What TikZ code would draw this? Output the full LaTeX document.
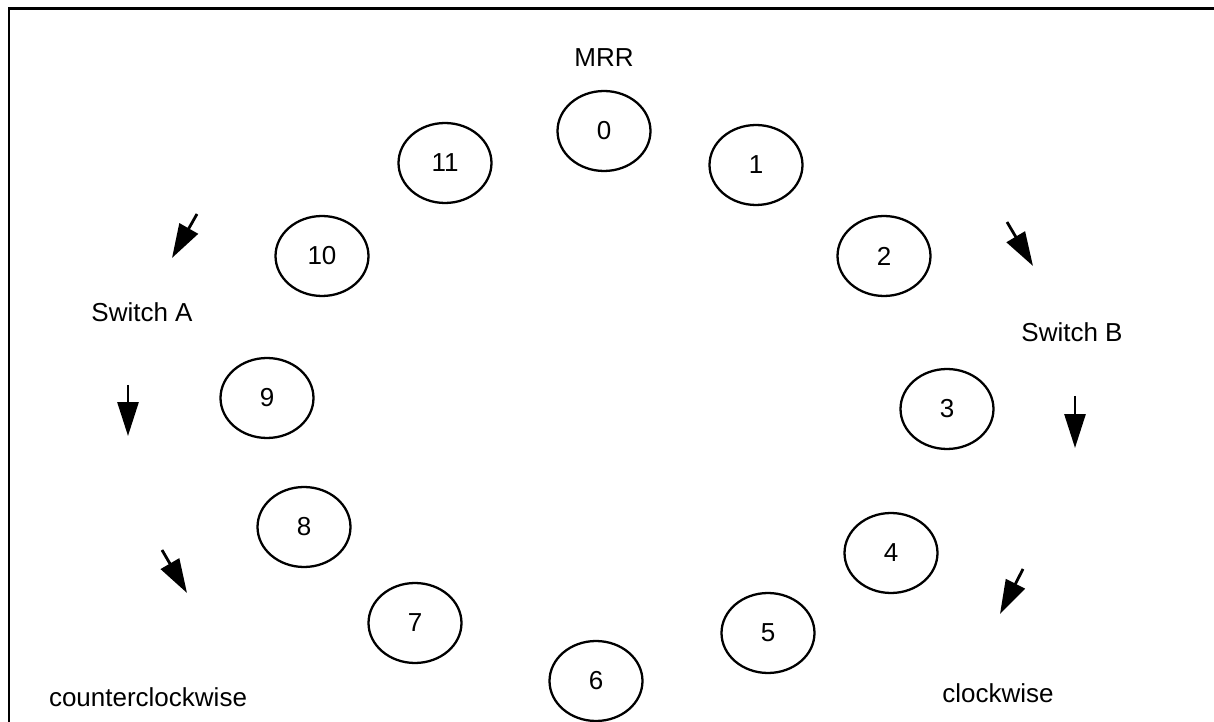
\documentclass[tikz,border=0pt]{standalone}
\usepackage{fontspec}
\setmainfont{Liberation Sans}
\usetikzlibrary{arrows.meta,positioning,shapes.geometric}
\tikzset{
  ring/.style={draw=black,ellipse,line width=1.3pt,minimum width=1.86cm,minimum height=1.6cm,inner sep=0pt,font=\fontsize{14.8}{17}\selectfont},
  lbl/.style={font=\fontsize{14.8}{17}\selectfont,inner sep=0pt},
  flow/.style={-{Triangle[length=0.68cm,width=0.42cm]},line width=1.6pt},
  frameline/.style={line width=1.7pt},
}
\begin{document}
\begin{tikzpicture}[x=0.02cm,y=-0.02cm]
		\useasboundingbox (0,0) rectangle (1214,722);
		\draw[frameline] (9,730)--(9,9)--(1220,9);
		% ring of stations
		\node[ring] (r0) at (604,131) {0};
		\node[ring] (r1) at (756,165) {1};
		\node[ring] (r2) at (884,256) {2};
		\node[ring] (r3) at (947,409) {3};
		\node[ring] (r4) at (891,553) {4};
		\node[ring] (r5) at (768,633) {5};
		\node[ring] (r6) at (596,681) {6};
		\node[ring] (r7) at (415,623) {7};
		\node[ring] (r8) at (304,527) {8};
		\node[ring] (r9) at (267,398) {9};
		\node[ring] (r10) at (322,256) {10};
		\node[ring] (r11) at (445,163) {11};
		% labels
		\node[lbl] (mrr) at (604,58) {MRR};
		\node[lbl] (swa) at (142,312) {Switch A};
		\node[lbl] (swb) at (1072,332) {Switch B};
		\node[lbl] (ccw) at (148,697) {counterclockwise};
		\node[lbl] (cw) at (998,693) {clockwise};
		% direction arrows
		\coordinate (a1s) at (197,214); \coordinate (a1e) at (172,258);
		\coordinate (a2s) at (128,385); \coordinate (a2e) at (128,436);
		\coordinate (a3s) at (162,550); \coordinate (a3e) at (187,593);
		\coordinate (b1s) at (1007,222); \coordinate (b1e) at (1033,266);
		\coordinate (b2s) at (1075,396); \coordinate (b2e) at (1075,448);
		\coordinate (b3s) at (1023,569); \coordinate (b3e) at (1000,614);
		\draw[flow] (a1s)--(a1e); \draw[flow] (a2s)--(a2e); \draw[flow] (a3s)--(a3e);
		\draw[flow] (b1s)--(b1e); \draw[flow] (b2s)--(b2e); \draw[flow] (b3s)--(b3e);
	\end{tikzpicture}
\end{document}
